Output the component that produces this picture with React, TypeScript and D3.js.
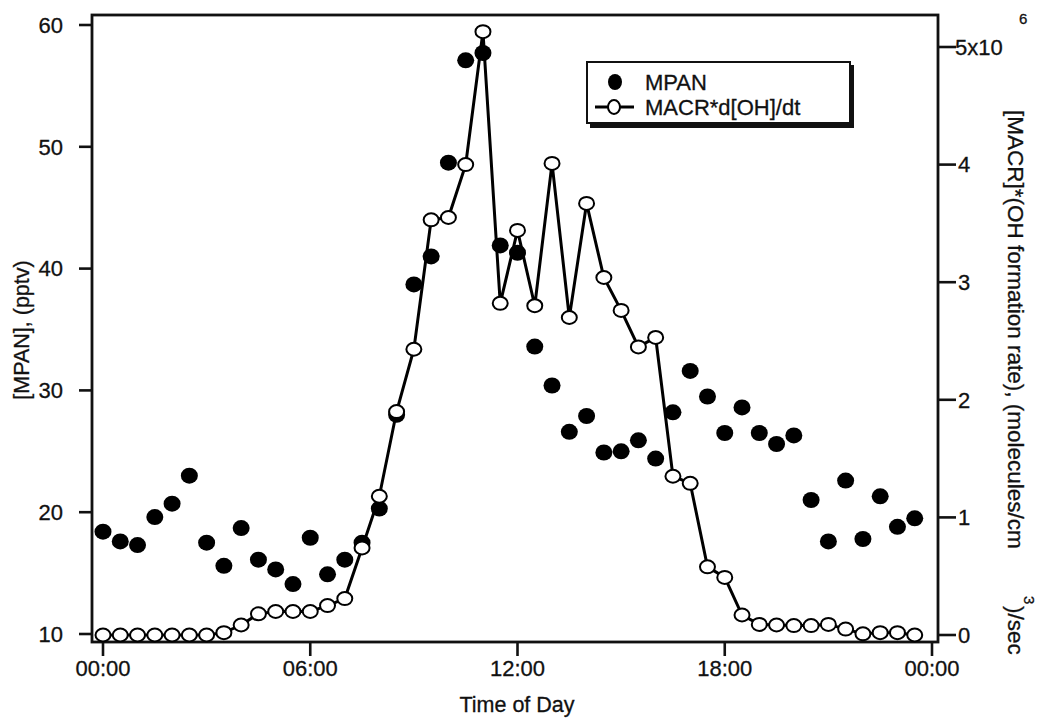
import React from 'react';
import * as d3 from 'd3';

// Time of day (hours) for each sample
const hours = [0, 0.5, 1, 1.5, 2, 2.5, 3, 3.5, 4, 4.5, 5, 5.5, 6, 6.5, 7, 7.5, 8, 8.5, 9, 9.5, 10, 10.5, 11, 11.5,
  12, 12.5, 13, 13.5, 14, 14.5, 15, 15.5, 16, 16.5, 17, 17.5, 18, 18.5, 19, 19.5, 20, 20.5, 21, 21.5, 22, 22.5, 23, 23.5];

// MPAN (pptv), left axis
const mpan = [18.4, 17.6, 17.3, 19.6, 20.7, 23.0, 17.5, 15.6, 18.7, 16.1, 15.3, 14.1, 17.9, 14.9, 16.1, 17.5, 20.3, 28.0,
  38.7, 41.0, 48.7, 57.1, 57.7, 41.9, 41.3, 33.6, 30.4, 26.6, 27.9, 24.9, 25.0, 25.9, 24.4, 28.2, 31.6, 29.5, 26.5, 28.6,
  26.5, 25.6, 26.3, 21.0, 17.6, 22.6, 17.8, 21.3, 18.8, 19.5];

// MACR*d[OH]/dt (x10^6 molecules/cm3/sec), right axis
const macr = [0, 0, 0, 0, 0, 0, 0, 0.02, 0.085, 0.18, 0.2, 0.2, 0.2, 0.25, 0.31, 0.74, 1.18, 1.9, 2.43, 3.53, 3.55, 4.0,
  5.13, 2.82, 3.44, 2.8, 4.01, 2.7, 3.67, 3.04, 2.76, 2.45, 2.53, 1.35, 1.29, 0.58, 0.49, 0.17, 0.09, 0.085, 0.08, 0.08,
  0.09, 0.05, 0.01, 0.02, 0.02, 0];

const leftTicks = [10, 20, 30, 40, 50, 60];
const rightTicks = [0, 1, 2, 3, 4, 5];
const rightTickLabels = ['0', '1', '2', '3', '4', '5x10'];
const xTicks = [0, 6, 12, 18, 24];
const xTickLabels = ['00:00', '06:00', '12:00', '18:00', '00:00'];

const FONT = '"Liberation Sans", Arial, Helvetica, sans-serif';
const INK = '#111';

export default function App() {
  const W = 1039, H = 719;
  const left = 92, right = 938, top = 15, bottom = 642;
  const x = d3.scaleLinear().domain([0, 24]).range([103, 932]);
  const yL = d3.scaleLinear().domain([10, 60]).range([634, 25]);
  const yR = d3.scaleLinear().domain([0, 5]).range([635, 47]);
  const line = d3.line<number>().x((_, i) => x(hours[i])).y(d => yR(d));
  const txt = { fill: INK, stroke: INK, strokeWidth: 0.3 };

  return (
    <svg width={W} height={H} style={{ position: 'absolute', left: 0, top: 0, background: '#fff' }}
      fontFamily={FONT}>
      <rect x={0} y={0} width={W} height={H} fill="#fff" />
      {/* frame */}
      <rect x={left} y={top} width={right - left} height={bottom - top} fill="none" stroke={INK} strokeWidth={2.8} />

      {/* left axis ticks */}
      {leftTicks.map(t => (
        <g key={'l' + t}>
          <line x1={left - 13} x2={left} y1={yL(t)} y2={yL(t)} stroke={INK} strokeWidth={2.6} />
          <text x={63} y={yL(t)} dy="0.35em" textAnchor="end" fontSize={22} {...txt}>{t}</text>
        </g>
      ))}
      {/* right axis ticks */}
      {rightTicks.map((t, i) => (
        <g key={'r' + t}>
          <line x1={right} x2={right + 18} y1={yR(t)} y2={yR(t)} stroke={INK} strokeWidth={2.6} />
          <text x={t === 5 ? 955 : 958} y={yR(t)} dy="0.35em" textAnchor="start" fontSize={22} {...txt}>{rightTickLabels[i]}</text>
        </g>
      ))}
      <text x={1019} y={24} fontSize={15} {...txt}>6</text>

      {/* x axis ticks */}
      {xTicks.map((t, i) => (
        <g key={'x' + i}>
          <line x1={x(t)} x2={x(t)} y1={bottom} y2={bottom + 14} stroke={INK} strokeWidth={2.6} />
          <text x={x(t)} y={676} textAnchor="middle" fontSize={22} {...txt}>{xTickLabels[i]}</text>
        </g>
      ))}

      {/* axis titles */}
      <text x={517} y={712} textAnchor="middle" fontSize={21.5} {...txt}>Time of Day</text>
      <text transform="translate(29,330) rotate(-90)" textAnchor="middle" fontSize={21.5} {...txt}>[MPAN], (pptv)</text>
      <text transform="translate(1008,110) rotate(90)" textAnchor="start" fontSize={22.5} {...txt}>[MACR]*(OH formation rate), (molecules/cm</text>
      <text transform="translate(1024,596) rotate(90)" textAnchor="start" fontSize={15} {...txt}>3</text>
      <text transform="translate(1008,606) rotate(90)" textAnchor="start" fontSize={22.5} {...txt}>)/sec</text>

      {/* MPAN points */}
      {mpan.map((v, i) => (
        <ellipse key={'m' + i} cx={x(hours[i])} cy={yL(v)} rx={8.5} ry={8} fill="#000" />
      ))}

      {/* MACR line */}
      <path d={line(macr) || ''} fill="none" stroke="#000" strokeWidth={3} strokeLinejoin="miter" />
      {macr.map((v, i) => (
        <ellipse key={'c' + i} cx={x(hours[i])} cy={yR(v)} rx={7.5} ry={6.5} fill="#fff" stroke="#000" strokeWidth={2} />
      ))}

      {/* legend */}
      <rect x={590} y={65} width={264} height={63} fill={INK} />
      <rect x={587} y={62} width={263} height={61} fill="#fff" stroke={INK} strokeWidth={2} />
      <ellipse cx={615} cy={82} rx={7} ry={8} fill="#000" />
      <text x={645} y={90} fontSize={22} {...txt}>MPAN</text>
      <line x1={595} x2={634} y1={107} y2={107} stroke="#000" strokeWidth={3} />
      <ellipse cx={614} cy={107} rx={6} ry={7} fill="#fff" stroke="#000" strokeWidth={2} />
      <text x={645} y={115} fontSize={22} {...txt}>MACR*d[OH]/dt</text>
    </svg>
  );
}
